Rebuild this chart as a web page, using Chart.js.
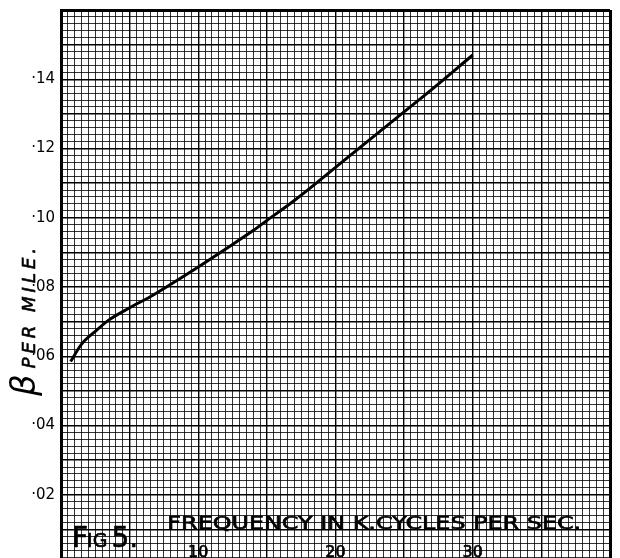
<!DOCTYPE html>
<html>
<head>
<script src="https://cdn.jsdelivr.net/npm/chart.js"></script>
<style>
  body { margin: 0; background: #fff; overflow: hidden; }
  #wrap { position: relative; width: 620px; height: 566px; }
</style>
</head>
<body>
<div id="wrap"><canvas id="betaChart"></canvas></div>
<script>
// Fig 5: attenuation constant beta per mile against frequency (k.cycles per sec)
const freq = [0.7, 1.5, 2.5, 3.5, 5, 6.5, 8, 10, 12, 14, 15, 17, 19, 22, 24.5, 27, 30];
const beta = [0.0585, 0.0635, 0.0672, 0.0705, 0.0740, 0.0772, 0.0808, 0.0858, 0.0910, 0.0963,
              0.0992, 0.1050, 0.1113, 0.1210, 0.1290, 0.1370, 0.1470];

const yLabelValues = [0.02, 0.04, 0.06, 0.08, 0.10, 0.12, 0.14];
const yLabelText = ['·02', '·04', '·06', '·08', '·10', '·12', '·14'];
const xLabelValues = [10, 20, 30];
const xLabelText = ['10', '20', '30'];

const points = freq.map((f, i) => ({x: f, y: beta[i]}));

// graph paper: thin lines every small square, a bit heavier every fifth
function xGridWidth(ctx) {
  const v = ctx.tick.value;
  if (v === 0 || v === 40) return 3;
  return v % 5 === 0 ? 1.4 : 1;
}
function yGridWidth(ctx) {
  const v = Math.round(ctx.tick.value * 1000);
  if (v === 160) return 3;
  return v % 10 === 0 ? 1.4 : 1;
}
function xGridColor(ctx) {
  return ctx.tick.value % 5 === 0 ? '#000' : 'rgba(0,0,0,0.8)';
}
function yGridColor(ctx) {
  return Math.round(ctx.tick.value * 1000) % 10 === 0 ? '#000' : 'rgba(0,0,0,0.8)';
}

// draw text squeezed/stretched between two x positions, slightly inked
function fitText(ctx, text, x0, x1, baseY) {
  const w = ctx.measureText(text).width;
  ctx.save();
  ctx.translate(x0, baseY);
  ctx.scale((x1 - x0) / w, 1);
  ctx.textAlign = 'left';
  ctx.fillText(text, 0, 0);
  ctx.strokeText(text, 0, 0);
  ctx.restore();
}

function inkText(ctx, text, x, y) {
  ctx.fillText(text, x, y);
  ctx.strokeText(text, x, y);
}

// lettering written on the paper itself
const paperText = {
  id: 'paperText',
  afterDraw(chart) {
    const {ctx, scales: {x, y}} = chart;
    ctx.save();
    ctx.fillStyle = '#000';
    ctx.strokeStyle = '#000';
    ctx.lineWidth = 0.6;
    ctx.textBaseline = 'alphabetic';

    ctx.font = '16px "DejaVu Sans"';
    ctx.textAlign = 'center';
    xLabelValues.forEach((v, i) => {
      inkText(ctx, xLabelText[i], x.getPixelForValue(v), y.getPixelForValue(0.0021));
    });

    ctx.font = '17px "DejaVu Sans"';
    fitText(ctx, 'FREQUENCY IN K.CYCLES PER SEC.', x.getPixelForValue(7.75), x.getPixelForValue(37.9), y.getPixelForValue(0.0102));

    // FIG 5.
    let fx = x.getPixelForValue(0.8);
    const fy = y.getPixelForValue(0.0048);
    ctx.textAlign = 'left';
    ctx.font = '28px "DejaVu Sans"';
    inkText(ctx, 'F', fx, fy);
    fx += ctx.measureText('F').width - 1;
    ctx.font = '19px "DejaVu Sans"';
    inkText(ctx, 'IG', fx, fy);
    fx += ctx.measureText('IG').width + 4;
    ctx.font = '28px "DejaVu Sans"';
    inkText(ctx, '5.', fx, fy);

    // vertical title
    ctx.translate(y.left + 35, y.getPixelForValue(0.0485));
    ctx.rotate(-Math.PI / 2);
    ctx.font = 'italic 34px "DejaVu Sans"';
    ctx.fillText('β', 0, 0);
    const bw = ctx.measureText('β').width;
    ctx.font = 'italic 18px "DejaVu Sans"';
    ctx.letterSpacing = '4px';
    inkText(ctx, 'PER MILE.', bw + 6, 0);
    ctx.restore();
  }
};

new Chart(document.getElementById('betaChart'), {
  type: 'scatter',
  data: {
    datasets: [{
      data: points,
      showLine: true,
      borderColor: '#000',
      borderWidth: 3,
      pointRadius: 0,
      cubicInterpolationMode: 'monotone'
    }]
  },
  options: {
    responsive: true,
    maintainAspectRatio: false,
    animation: false,
    layout: {padding: {top: 10, right: 10, bottom: 2, left: 0}},
    plugins: {legend: {display: false}, tooltip: {enabled: false}},
    scales: {
      x: {
        type: 'linear',
        min: 0,
        max: 40,
        ticks: {stepSize: 0.5, display: false},
        grid: {color: xGridColor, lineWidth: xGridWidth, drawTicks: false},
        border: {display: false},
        afterFit(scale) {
          scale.height = 0;
          scale.paddingLeft = 0;
          scale.paddingRight = 0;
        }
      },
      y: {
        type: 'linear',
        min: 0,
        max: 0.16,
        ticks: {
          stepSize: 0.002,
          autoSkip: false,
          padding: 6,
          color: '#000',
          font: {family: 'DejaVu Sans', size: 15},
          callback(value) {
            const i = yLabelValues.findIndex(v => Math.abs(v - value) < 1e-6);
            return i >= 0 ? yLabelText[i] : '';
          }
        },
        grid: {color: yGridColor, lineWidth: yGridWidth, drawTicks: false},
        border: {display: true, color: '#000', width: 3},
        afterFit(scale) {
          scale.width = 61;
          scale.paddingTop = 0;
          scale.paddingBottom = 0;
        }
      }
    }
  },
  plugins: [paperText]
});
</script>
</body>
</html>
